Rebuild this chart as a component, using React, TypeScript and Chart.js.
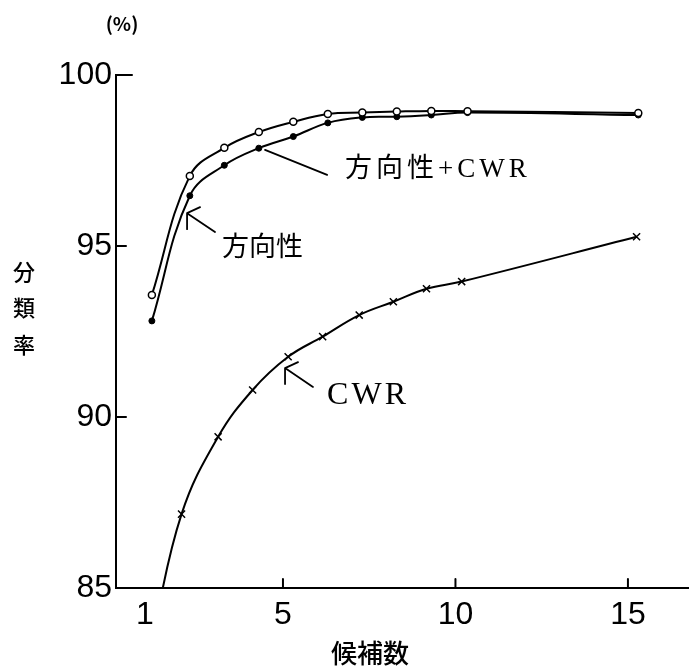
import React, { useEffect, useRef } from 'react';
import { Chart, registerables } from 'chart.js';

Chart.register(...registerables);

// x positions (候補数) as drawn in the figure
const xDirection = [1.2, 2.3, 3.3, 4.3, 5.3, 6.3, 7.3, 8.3, 9.3, 10.35, 15.3];
const dirPlusCwrValues = [93.57, 97.05, 97.87, 98.33, 98.63, 98.86, 98.9, 98.93, 98.95, 98.94, 98.89];
const dirValues = [92.81, 96.47, 97.36, 97.86, 98.2, 98.6, 98.76, 98.78, 98.83, 98.9, 98.83];
const xCwr = [1.2, 2.06, 3.12, 4.12, 5.15, 6.15, 7.21, 8.2, 9.16, 10.18, 15.25];
const cwrValues = [83.5, 87.16, 89.42, 90.79, 91.76, 92.35, 92.98, 93.37, 93.75, 93.96, 95.27];

const xTickValues = [1, 5, 10, 15];
const yTickValues = [85, 90, 95, 100];
const xInwardTicks = [5, 10, 15];
const yInwardTicks = [90, 95, 100];

const xTitle = '候補数';
const yTitleChars = ['分', '類', '率'];
const yUnit = '(%)';
const labelDirCwr = '方向性+CWR';
const labelDir = '方向性';
const labelCwr = 'CWR';

const CJK = '"Noto Sans CJK JP", "Noto Sans CJK SC", sans-serif';
const NUM = '"Liberation Sans", Arimo, sans-serif';
const SERIF_CJK = '"Liberation Serif", "Noto Sans CJK JP", serif';

export default function App() {
  const ref = useRef<HTMLCanvasElement>(null);

  useEffect(() => {
    document.body.style.margin = '0';
    const canvas = ref.current!;

    const decor = {
      id: 'decor',
      afterDraw(chart: any) {
        const ctx = chart.ctx as CanvasRenderingContext2D;
        const xs = chart.scales.x;
        const ys = chart.scales.y;
        const area = chart.chartArea;
        ctx.save();
        ctx.strokeStyle = '#000';
        ctx.fillStyle = '#000';
        ctx.lineWidth = 2;
        ctx.lineCap = 'round';
        // inward tick marks
        xInwardTicks.forEach((v) => {
          const px = xs.getPixelForValue(v);
          ctx.beginPath();
          ctx.moveTo(px, area.bottom);
          ctx.lineTo(px, area.bottom - 9);
          ctx.stroke();
        });
        yInwardTicks.forEach((v) => {
          const py = ys.getPixelForValue(v);
          ctx.beginPath();
          ctx.moveTo(area.left, py);
          ctx.lineTo(area.left + (v === 100 ? 16 : 10), py);
          ctx.stroke();
        });

        // leader lines
        const leader = (tx: number, ty: number, ex: number, ey: number, arms: boolean) => {
          const x0 = xs.getPixelForValue(tx);
          const y0 = ys.getPixelForValue(ty);
          const x1 = xs.getPixelForValue(ex);
          const y1 = ys.getPixelForValue(ey);
          ctx.lineWidth = 1.8;
          ctx.beginPath();
          ctx.moveTo(x0, y0);
          ctx.lineTo(x1, y1);
          if (arms) {
            ctx.moveTo(x0, y0);
            ctx.lineTo(x0 + 13, y0 - 6);
            ctx.moveTo(x0, y0);
            ctx.lineTo(x0, y0 + 16);
          }
          ctx.stroke();
        };
        leader(4.48, 97.81, 6.28, 97.08, false);
        leader(2.22, 95.96, 3.03, 95.41, true);
        leader(5.06, 91.43, 5.87, 90.88, true);

        ctx.textBaseline = 'middle';
        ctx.textAlign = 'left';
        // annotation labels
        ctx.font = `27px ${SERIF_CJK}`;
        (ctx as any).letterSpacing = '4px';
        ctx.fillText(labelDirCwr, xs.getPixelForValue(6.8), ys.getPixelForValue(97.22));
        (ctx as any).letterSpacing = '0px';
        ctx.font = `27px ${CJK}`;
        ctx.fillText(labelDir, xs.getPixelForValue(3.23), ys.getPixelForValue(95.0));
        ctx.font = `32px ${SERIF_CJK}`;
        (ctx as any).letterSpacing = '3px';
        ctx.fillText(labelCwr, xs.getPixelForValue(6.28), ys.getPixelForValue(90.64));
        (ctx as any).letterSpacing = '0px';

        // axis titles
        ctx.textAlign = 'center';
        ctx.font = `bold 19px ${CJK}`;
        ctx.fillText(yUnit, area.left + 6, 24);
        ctx.font = `500 22px ${CJK}`;
        const yCenters = [272, 308, 345];
        yTitleChars.forEach((c, i) => ctx.fillText(c, 24, yCenters[i]));
        ctx.font = `500 26px ${CJK}`;
        ctx.fillText(xTitle, 370, 653);
        ctx.restore();
      },
    };

    const chart = new Chart(canvas, {
      type: 'line',
      data: {
        datasets: [
          {
            label: labelDirCwr,
            data: xDirection.map((x, i) => ({ x, y: dirPlusCwrValues[i] })),
            borderColor: '#000',
            borderWidth: 2,
            pointStyle: 'circle',
            pointRadius: 3.5,
            pointBackgroundColor: '#fff',
            pointBorderColor: '#000',
            pointBorderWidth: 1.5,
            tension: 0.4,
          },
          {
            label: labelDir,
            data: xDirection.map((x, i) => ({ x, y: dirValues[i] })),
            borderColor: '#000',
            borderWidth: 2,
            pointStyle: 'circle',
            pointRadius: 3,
            pointBackgroundColor: '#000',
            pointBorderColor: '#000',
            pointBorderWidth: 1,
            tension: 0.4,
          },
          {
            label: labelCwr,
            data: xCwr.map((x, i) => ({ x, y: cwrValues[i] })),
            borderColor: '#000',
            borderWidth: 2,
            pointStyle: 'crossRot',
            pointRadius: xCwr.map((_, i) => (i === 0 ? 0 : 5)),
            pointBorderColor: '#000',
            pointBorderWidth: 1.5,
            tension: 0.4,
          },
        ],
      },
      options: {
        responsive: false,
        animation: false,
        layout: { autoPadding: false, padding: { top: 75, right: 0, left: 0, bottom: 0 } },
        plugins: { legend: { display: false }, tooltip: { enabled: false } },
        scales: {
          x: {
            type: 'linear',
            min: 0.16,
            max: 16.77,
            afterBuildTicks: (s: any) => {
              s.ticks = xTickValues.map((v) => ({ value: v }));
            },
            afterFit: (s: any) => {
              s.height = 81;
              s.paddingLeft = 0;
              s.paddingRight = 0;
            },
            grid: { display: true, drawOnChartArea: false, drawTicks: false },
            border: { display: true, color: '#000', width: 2 },
            ticks: {
              color: '#000',
              font: { family: NUM, size: 32 },
              padding: 8,
              autoSkip: false,
              maxRotation: 0,
            },
          },
          y: {
            min: 85,
            max: 100,
            afterBuildTicks: (s: any) => {
              s.ticks = yTickValues.map((v) => ({ value: v }));
            },
            afterFit: (s: any) => {
              s.width = 116;
            },
            grid: { display: true, drawOnChartArea: false, drawTicks: false },
            border: { display: true, color: '#000', width: 2 },
            ticks: {
              color: '#000',
              font: { family: NUM, size: 32 },
              padding: 4,
              autoSkip: false,
            },
          },
        },
      },
      plugins: [decor],
    });

    return () => chart.destroy();
  }, []);

  return <canvas ref={ref} width={689} height={669} style={{ display: 'block' }} />;
}
